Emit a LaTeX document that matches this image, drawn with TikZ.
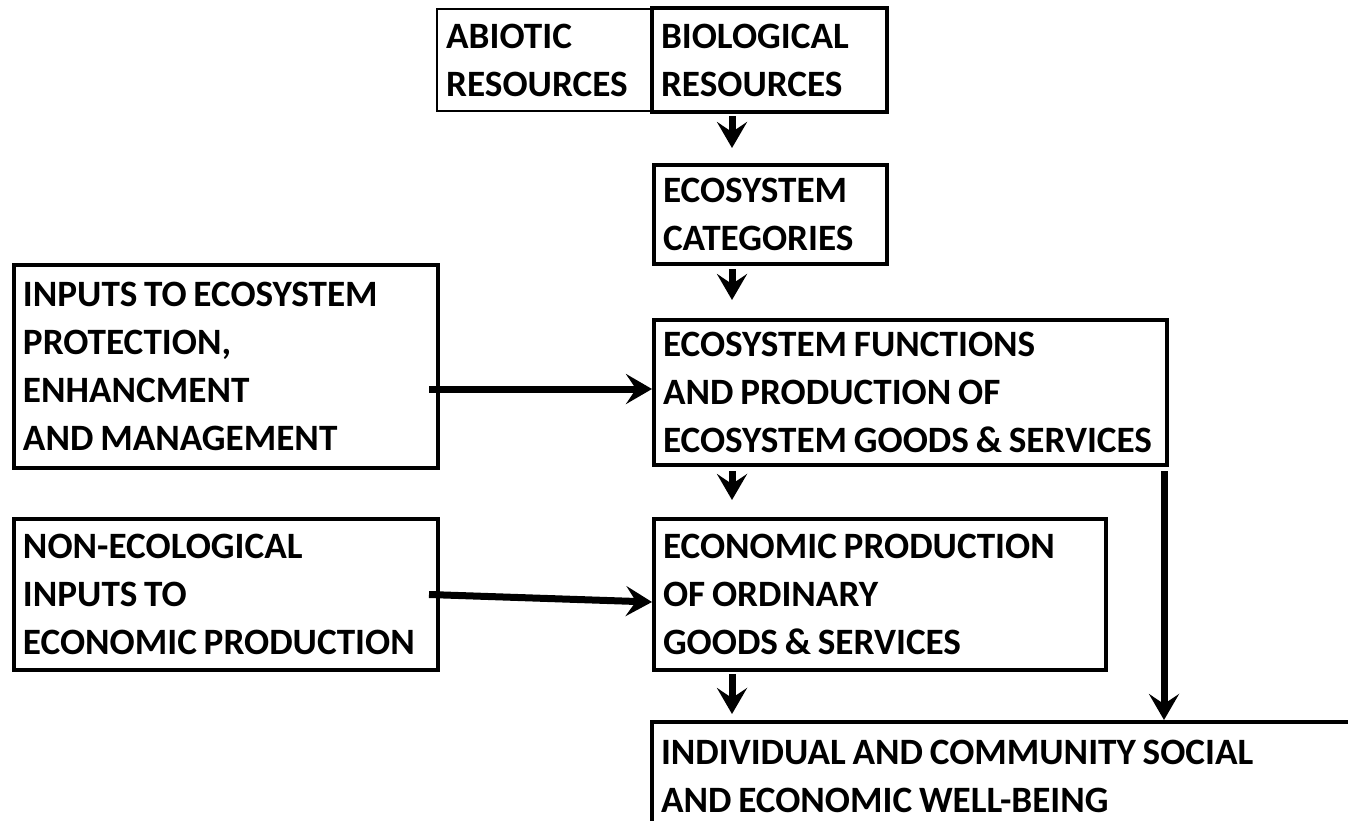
\documentclass[tikz,border=0pt]{standalone}
\usepackage{fontspec}
\setmainfont{Carlito}
\usetikzlibrary{arrows.meta,positioning}
\hyphenpenalty=10000

\begin{document}
\begin{tikzpicture}[x=0.5pt, y=-0.5pt,
        bx/.style={draw, line width=2pt, anchor=north west, align=left, inner xsep=4.5pt, inner ysep=0pt,
            font=\bfseries\fontsize{18.6}{24}\selectfont,
            execute at begin node={\spaceskip=3.4pt plus 1pt minus 1pt\relax}},
        ar/.style={-{Stealth[length=13pt, width=15pt, inset=5pt]}, line width=3.5pt}]
    \useasboundingbox (0,0) rectangle (1348,820);
    \clip (0,0) rectangle (1348,820);

    % top row
    \node[bx, line width=1.2pt, text width=98pt, minimum height=51pt] (abio) at (436,8) {ABIOTIC\\RESOURCES};
    \node[bx, text width=108.5pt, minimum height=52pt] (bio) at (650,6) {BIOLOGICAL\\RESOURCES};
    \node[bx, text width=107.5pt, minimum height=49.5pt] (cat) at (652,163) {ECOSYSTEM\\CATEGORIES};
    \node[bx, text width=247.5pt, minimum height=72.5pt] (func) at (652,318) {ECOSYSTEM FUNCTIONS\\AND PRODUCTION OF\\ECOSYSTEM GOODS \& SERVICES};
    \node[bx, text width=203pt, minimum height=101.5pt] (inputs) at (12,263) {INPUTS TO ECOSYSTEM\\PROTECTION,\\ENHANCMENT\\AND MANAGEMENT};
    \node[bx, text width=217pt, minimum height=75.5pt] (econ) at (652,517) {ECONOMIC PRODUCTION\\OF ORDINARY\\GOODS \& SERVICES};
    \node[bx, text width=203pt, minimum height=75.5pt] (noneco) at (12,517) {NON-ECOLOGICAL\\INPUTS TO\\ECONOMIC PRODUCTION};
    % runs off the page
    \node[bx, text width=371pt, minimum height=54pt] (well) at (650,720) {INDIVIDUAL AND COMMUNITY SOCIAL\\AND ECONOMIC WELL-BEING};

    \coordinate (c) at (732,0);
    \coordinate (d) at (1164,0);
    \coordinate (in) at ([yshift=1.75pt]func.west);

    \draw[ar, shorten <=1pt, shorten >=7.5pt] (bio.south -| c) -- (cat.north -| c);
    \draw[ar, shorten <=1.5pt, shorten >=9pt] (cat.south -| c) -- (func.north -| c);
    \draw[ar, shorten <=2pt, shorten >=8.5pt] (func.south -| c) -- (econ.north -| c);
    \draw[ar, shorten <=1pt, shorten >=3pt] (econ.south -| c) -- (well.north -| c);
    \draw[ar, shorten <=2pt] (func.south -| d) -- (well.north -| d);

    \draw[ar] ([xshift=-5.5pt]inputs.east |- in) -- (in);
    \draw[ar] ([xshift=-5.5pt]noneco.east) -- ([yshift=-3.75pt]econ.west);
\end{tikzpicture}
\end{document}
